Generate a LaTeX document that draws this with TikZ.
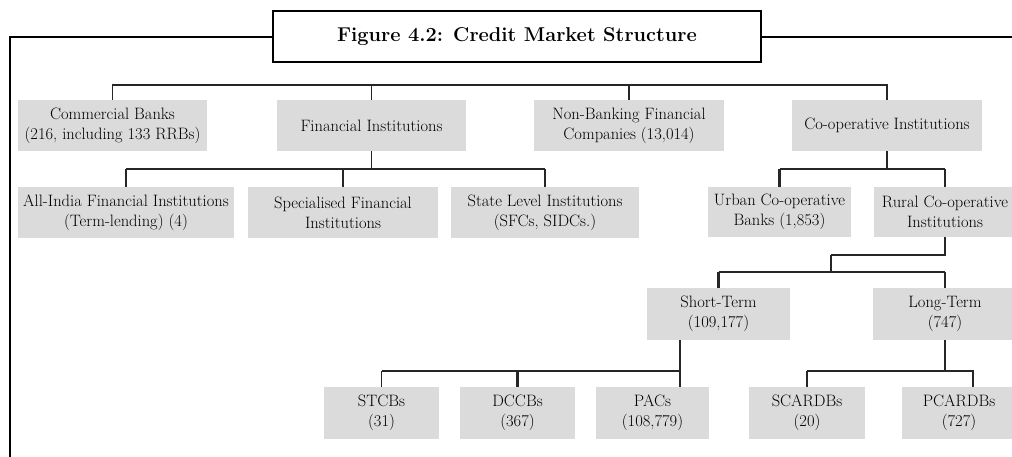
\documentclass[tikz,border=0pt]{standalone}
\usepackage{fontspec}
\begin{document}
\begin{tikzpicture}[x=1pt,y=-1pt,
  box/.style={fill=black!14, text=black, align=center, inner sep=0pt,
    font=\fontsize{16.5}{20}\selectfont},
  thinln/.style={line width=1.1pt, black!85},
  thickln/.style={line width=2.4pt, black!85}]
\useasboundingbox (0,0) rectangle (1012,457);
% frame and title
\node[draw, line width=1.8pt, minimum width=488pt, minimum height=51pt, inner sep=0pt,
  font=\bfseries\fontsize{20}{24}\selectfont] (title) at (517,36.5) {Figure 4.2: Credit Market Structure};
\coordinate (fl) at (10,37);
\coordinate (fb) at (10,457);
\coordinate (fr) at (1012,37);
\draw[line width=2pt] (title.west |- fl) -- (fl) -- (fb);
\draw[line width=2pt] (title.east |- fr) -- (fr);
% row 1
\node[box, minimum width=189pt, minimum height=51pt] (cb) at (112.5,125.5) {Commercial Banks\\(216, including 133 RRBs)};
\node[box, minimum width=189pt, minimum height=51pt] (fi) at (371.5,125.5) {Financial Institutions};
\node[box, minimum width=190pt, minimum height=51pt] (nbfc) at (629,125.5) {Non-Banking Financial\\Companies (13,014)};
\node[box, minimum width=190pt, minimum height=51pt] (coop) at (887,125.5) {Co-operative Institutions};
% row 2
\node[box, minimum width=216pt, minimum height=51pt] (aifi) at (126,212.5) {All-India Financial Institutions\\(Term-lending) (4)};
\node[box, minimum width=190pt, minimum height=51pt] (sfi) at (343,212.5) {Specialised Financial\\Institutions};
\node[box, minimum width=188pt, minimum height=51pt] (sli) at (545,212.5) {State Level Institutions\\(SFCs, SIDCs.)};
\node[box, minimum width=143pt, minimum height=50pt] (ucb) at (779.5,212) {Urban Co-operative\\Banks (1,853)};
\node[box, minimum width=142pt, minimum height=50pt] (rci) at (945,212) {Rural Co-operative\\Institutions};
% row 3
\node[box, minimum width=143pt, minimum height=52pt] (st) at (718.5,314) {Short-Term\\(109,177)};
\node[box, minimum width=144pt, minimum height=52pt] (lt) at (945,314) {Long-Term\\(747)};
% row 4
\node[box, minimum width=115pt, minimum height=52pt] (stcb) at (381.5,413) {STCBs\\(31)};
\node[box, minimum width=115pt, minimum height=52pt] (dccb) at (517.5,413) {DCCBs\\(367)};
\node[box, minimum width=113pt, minimum height=52pt] (pacs) at (652.5,413) {PACs\\(108,779)};
\node[box, minimum width=116pt, minimum height=52pt] (scardb) at (807,413) {SCARDBs\\(20)};
\node[box, minimum width=114pt, minimum height=52pt] (pcardb) at (959,413) {PCARDBs\\(727)};
% connectors: top level
\coordinate (top) at (0,85);
\draw[thinln] (cb.north) -- (cb.north |- top) -- (coop.north |- top) -- (coop.north);
\draw[thinln] (fi.north) -- (fi.north |- top);
\draw[thinln] (nbfc.north) -- (nbfc.north |- top);
% financial institutions
\coordinate (b1) at (0,169);
\draw[thinln] (fi.south) -- (fi.south |- b1);
\draw[thickln] (aifi.north |- b1) -- (sli.north |- b1);
\draw[thinln] (aifi.north |- b1) -- (aifi.north);
\draw[thinln] (sfi.north |- b1) -- (sfi.north);
\draw[thinln] (sli.north |- b1) -- (sli.north);
% co-operative
\draw[thinln] (coop.south) -- (coop.south |- b1);
\draw[thickln] (ucb.north |- b1) -- (rci.north |- b1);
\draw[thickln] (ucb.north |- b1) -- (ucb.north);
\draw[thinln] (rci.north |- b1) -- (rci.north);
% rural
\coordinate (rk) at (831,255);
\coordinate (b2) at (0,272);
\draw[thickln] (rci.south) -- (rci.south |- rk) -- (rk);
\draw[thinln] (rk) -- (rk |- b2);
\draw[thinln] (st.north |- b2) -- (lt.north |- b2);
\draw[thickln] (st.north |- b2) -- (st.north);
\draw[thinln] (lt.north |- b2) -- (lt.north);
% short-term
\coordinate (sd) at (680,340);
\coordinate (b3) at (0,371);
\draw[thickln] (sd) -- (sd |- pacs.north);
\draw[thinln] (stcb.north |- b3) -- (sd |- b3);
\draw[thinln] (stcb.north |- b3) -- (stcb.north);
\draw[thickln] (dccb.north |- b3) -- (dccb.north);
% long-term
\coordinate (pd) at (973,387);
\draw[thinln] (lt.south) -- (lt.south |- b3);
\draw[thinln] (scardb.north |- b3) -- (pd |- b3) -- (pd);
\draw[thickln] (scardb.north |- b3) -- (scardb.north);
\end{tikzpicture}
\end{document}
